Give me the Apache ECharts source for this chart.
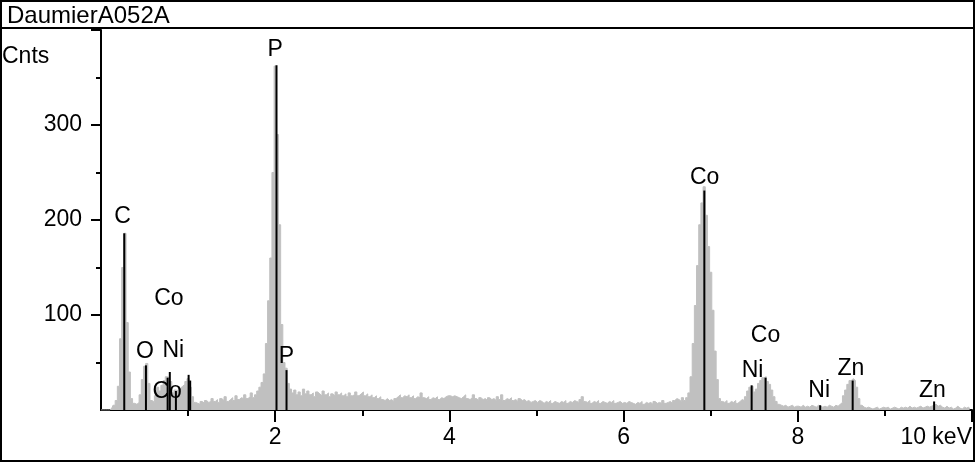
<!DOCTYPE html>
<html>
<head>
<meta charset="utf-8">
<title>DaumierA052A</title>
<script src="https://cdn.jsdelivr.net/npm/echarts@6.0.0/dist/echarts.min.js"></script>
<style>
  html, body { margin: 0; padding: 0; background: #fff; }
  #chart { width: 975px; height: 462px; }
</style>
</head>
<body>
<div id="chart"></div>
<script>
// spectrum name
var spectrumName = 'DaumierA052A'

// counts per 0.025 keV channel, one row per keV (0-1, 1-2, ... 9-10)
var channelWidth = 0.025
var countsRow0 = [0, 0, 0, 0, 0, 2, 5, 10, 25, 75, 150, 186, 92, 40, 12, 7, 6, 8, 16, 32, 46, 49, 28, 10, 8, 15, 24, 20, 26, 31, 35, 34, 30, 18, 21, 20, 23, 25, 27, 30]
var countsRow1 = [33, 24, 14, 8, 7, 6, 9, 7, 10, 8, 9, 12, 9, 11, 8, 12, 10, 14, 9, 11, 13, 10, 15, 11, 13, 12, 16, 12, 14, 18, 13, 16, 20, 24, 29, 38, 70, 115, 160, 250]
var countsRow2 = [362, 290, 195, 90, 50, 44, 28, 22, 18, 21, 16, 19, 15, 22, 17, 20, 16, 18, 14, 19, 17, 15, 20, 16, 18, 14, 17, 15, 19, 16, 18, 15, 17, 14, 18, 15, 16, 19, 15, 17]
var countsRow3 = [19, 15, 17, 14, 16, 13, 15, 12, 14, 11, 10, 12, 10, 11, 9, 12, 14, 16, 13, 15, 14, 16, 13, 15, 12, 14, 13, 18, 13, 12, 14, 11, 13, 12, 14, 11, 13, 12, 14, 15]
var countsRow4 = [15, 14, 15, 14, 13, 12, 14, 16, 12, 11, 13, 16, 12, 10, 13, 11, 12, 10, 13, 11, 12, 10, 14, 11, 16, 10, 12, 11, 13, 10, 11, 9, 12, 10, 11, 9, 10, 8, 9, 10]
var countsRow5 = [8, 10, 9, 7, 9, 8, 10, 7, 9, 8, 7, 9, 8, 10, 7, 9, 8, 10, 9, 8, 11, 14, 9, 8, 10, 7, 9, 8, 10, 7, 9, 8, 7, 9, 8, 10, 7, 8, 9, 7]
var countsRow6 = [8, 7, 9, 8, 7, 6, 8, 7, 9, 6, 8, 7, 8, 6, 9, 7, 8, 7, 10, 7, 8, 9, 7, 10, 12, 11, 9, 13, 10, 13, 18, 35, 70, 110, 152, 195, 218, 235, 205, 172]
var countsRow7 = [145, 105, 62, 32, 12, 9, 8, 10, 7, 9, 8, 10, 7, 9, 11, 10, 14, 20, 24, 25, 19, 22, 28, 31, 34, 35, 30, 27, 21, 14, 9, 6, 5, 4, 5, 3, 4, 5, 3, 4]
var countsRow8 = [4, 3, 5, 3, 4, 3, 5, 4, 3, 5, 4, 3, 4, 3, 5, 4, 3, 5, 4, 6, 8, 15, 21, 27, 31, 33, 31, 24, 12, 5, 3, 2, 3, 2, 1, 2, 3, 1, 2, 3]
var countsRow9 = [2, 3, 1, 2, 3, 2, 1, 3, 2, 3, 2, 4, 2, 3, 2, 3, 4, 2, 3, 4, 3, 4, 5, 6, 4, 5, 3, 2, 4, 2, 3, 1, 2, 4, 2, 1, 3, 2, 3, 1]

// element marker lines (keV, height in counts)
var markerEnergies = [0.267, 0.516, 0.765, 0.79, 0.86, 1.006, 1.024, 2.015, 2.13, 6.927, 7.47, 7.63, 8.257, 8.63, 9.565]
var markerHeights = [186, 47, 34, 40, 20, 37, 31, 363, 42, 231, 26, 34, 5, 31, 9]

// marker labels (text, keV, counts)
var labelTexts = ['C', 'O', 'Co', 'Ni', 'Co', 'P', 'P', 'Co', 'Co', 'Ni', 'Ni', 'Zn', 'Zn']
var labelEnergies = [0.247, 0.505, 0.78, 0.83, 0.76, 2.0, 2.13, 6.93, 7.63, 7.48, 8.245, 8.61, 9.546]
var labelCounts = [203, 61, 117, 62, 19, 379, 56, 245, 78, 41, 20, 43, 20]

// axis ticks
var xTickValues = [2, 4, 6, 8, 10]
var yTickValues = [100, 200, 300, 400]

var font = "'Liberation Sans', Arial, sans-serif"

var allCounts = [].concat(countsRow0, countsRow1, countsRow2, countsRow3, countsRow4,
  countsRow5, countsRow6, countsRow7, countsRow8, countsRow9)
var spectrumData = allCounts.map(function(c, i) {
  return [+(i * channelWidth).toFixed(3), c]
})
var markerData = markerEnergies.map(function(e, i) {
  return [e, markerHeights[i]]
})
var labelData = labelTexts.map(function(t, i) {
  return { name: t, value: [labelEnergies[i], labelCounts[i]] }
})

var chart = echarts.init(document.getElementById('chart'))
chart.setOption({
  backgroundColor: '#fff',
  animation: false,
  textStyle: { fontFamily: font },
  grid: { left: 101, right: 2, top: 30, bottom: 52, containLabel: false },
  xAxis: {
    type: 'value',
    min: 0,
    max: 10,
    interval: 2,
    axisLine: { show: true, onZero: false, lineStyle: { color: '#000', width: 2 } },
    axisTick: { show: true, length: 12, customValues: xTickValues, lineStyle: { color: '#000', width: 2 } },
    minorTick: { show: true, splitNumber: 2, length: 6, lineStyle: { color: '#000', width: 2 } },
    splitLine: { show: false },
    axisLabel: {
      color: '#000',
      fontSize: 23,
      fontFamily: font,
      margin: 16,
      showMaxLabel: true,
      alignMaxLabel: 'right',
      formatter: function(v) {
        if (v === 0) return ''
        if (v === 10) return '10 keV'
        return String(v)
      }
    }
  },
  yAxis: {
    type: 'value',
    min: 0,
    max: 400,
    interval: 100,
    axisLine: { show: true, lineStyle: { color: '#000', width: 2 } },
    axisTick: { show: true, length: 10, customValues: yTickValues, lineStyle: { color: '#000', width: 2 } },
    minorTick: { show: true, splitNumber: 2, length: 5, lineStyle: { color: '#000', width: 2 } },
    splitLine: { show: false },
    axisLabel: {
      color: '#000',
      fontSize: 23,
      fontFamily: font,
      margin: 19,
      formatter: function(v) {
        return (v === 0 || v === 400) ? '' : String(v)
      }
    }
  },
  graphic: [
    {
      type: 'rect',
      shape: { x: 1, y: 1, width: 973, height: 460 },
      style: { fill: 'none', stroke: '#000', lineWidth: 2 },
      z: 10
    },
    {
      type: 'line',
      shape: { x1: 0, y1: 28, x2: 975, y2: 28 },
      style: { stroke: '#000', lineWidth: 2 },
      z: 10
    },
    {
      type: 'text',
      left: 7,
      top: 4,
      style: { text: spectrumName, fill: '#000', font: '24px ' + font }
    },
    {
      type: 'text',
      left: 2,
      top: 45,
      style: { text: 'Cnts', fill: '#000', font: '23px ' + font }
    }
  ],
  series: [
    {
      name: 'spectrum',
      type: 'line',
      step: 'middle',
      symbol: 'none',
      data: spectrumData,
      lineStyle: { color: '#c0c0c0', width: 1 },
      areaStyle: { color: '#c0c0c0', opacity: 1 },
      z: 2
    },
    {
      name: 'markers',
      type: 'bar',
      barWidth: 2,
      data: markerData,
      itemStyle: { color: '#000' },
      z: 3
    },
    {
      name: 'labels',
      type: 'scatter',
      symbolSize: 0,
      data: labelData,
      itemStyle: { opacity: 1 },
      label: {
        show: true,
        position: 'inside',
        color: '#000',
        fontSize: 23,
        fontFamily: font,
        formatter: function(p) { return p.name }
      },
      z: 4
    }
  ]
})
</script>
</body>
</html>
